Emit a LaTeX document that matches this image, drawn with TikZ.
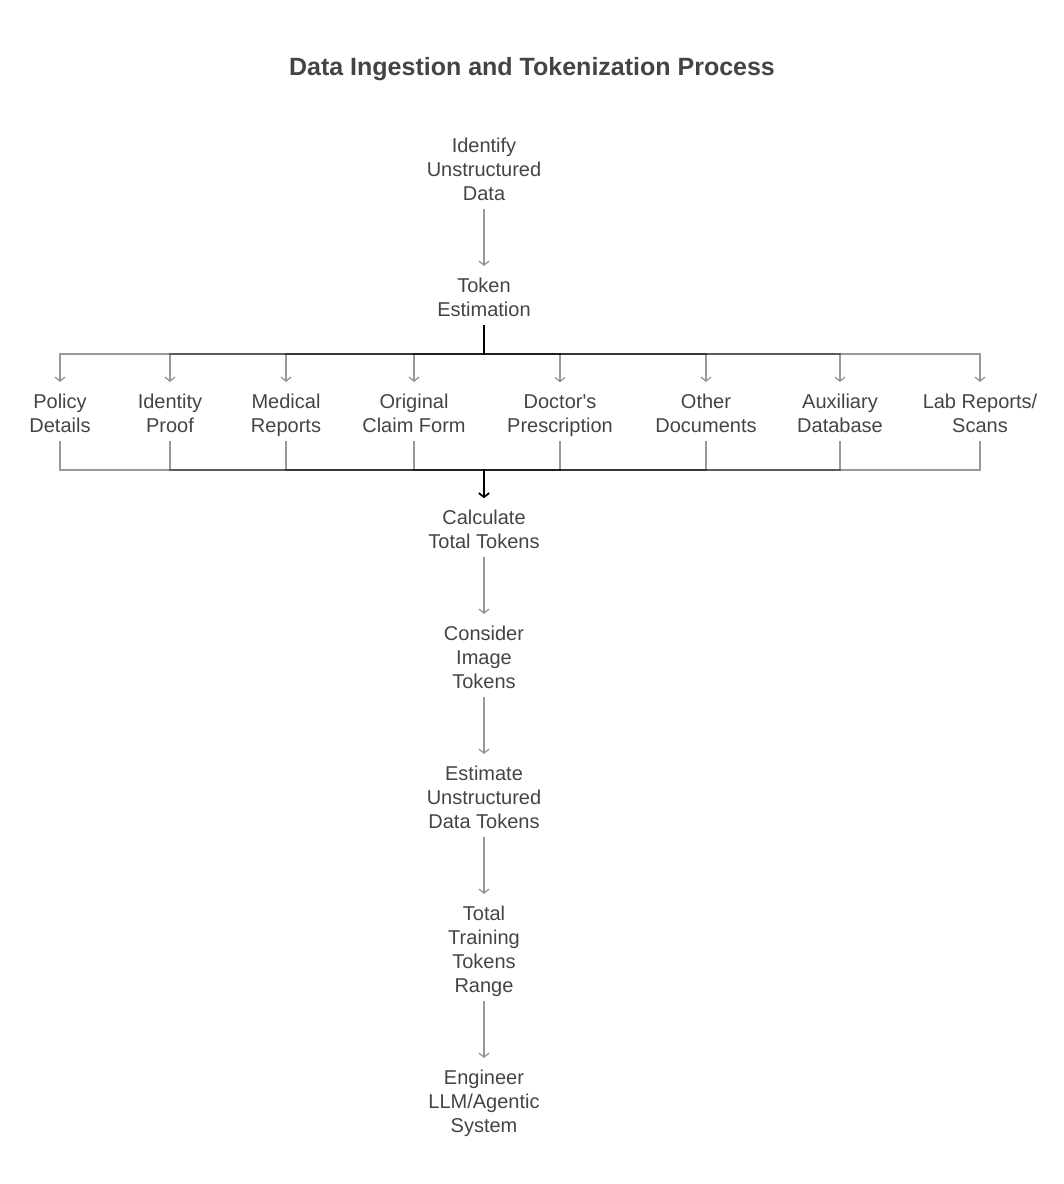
\documentclass[tikz,border=0pt]{standalone}
\usepackage{fontspec}
\setmainfont{Liberation Sans}[Ligatures=TeXOff]
\usetikzlibrary{arrows.meta}

\definecolor{txt}{HTML}{444444}

\begin{document}
\begin{tikzpicture}[x=1pt, y=-1pt,
    box/.style={text=txt, align=center, font=\fontsize{20}{24}\selectfont,
        inner sep=0pt, execute at begin node=\strut, execute at end node=\strut},
    link/.style={draw=black, draw opacity=0.4, line width=1.3pt,
        shorten <=1pt, shorten >=12pt},
    edge/.style={link, -{Straight Barb[length=4pt,width=10pt]}}]
    \useasboundingbox (0,0) rectangle (1064,1184);

    \node[text=txt, font=\bfseries\fontsize{25}{30}\selectfont] (title) at (532,69)
        {Data Ingestion and Tokenization Process};

    \node[box] (ident) at (484,173) {Identify\\Unstructured\\Data};
    \node[box] (token) at (484,301) {Token\\Estimation};

    \node[box] (policy) at (60,417) {Policy\\Details};
    \node[box] (proof)  at (170,417) {Identity\\Proof};
    \node[box] (medrep) at (286,417) {Medical\\Reports};
    \node[box] (claim)  at (414,417) {Original\\Claim Form};
    \node[box] (presc)  at (560,417) {Doctor's\\Prescription};
    \node[box] (other)  at (706,417) {Other\\Documents};
    \node[box] (auxdb)  at (840,417) {Auxiliary\\Database};
    \node[box] (labrep) at (980,417) {Lab Reports/\\Scans};

    \node[box] (calc)   at (484,533) {Calculate\\Total Tokens};
    \node[box] (image)  at (484,661) {Consider\\Image\\Tokens};
    \node[box] (unstr)  at (484,801) {Estimate\\Unstructured\\Data Tokens};
    \node[box] (range)  at (484,953) {Total\\Training\\Tokens\\Range};
    \node[box] (llm)    at (484,1105) {Engineer\\LLM/Agentic\\System};

    \coordinate (fork) at (484,354);
    \coordinate (join) at (484,470);

    \draw[edge] (ident) -- (token);
    \foreach \n in {policy,proof,medrep,claim,presc,other,auxdb,labrep} {
        \draw[edge] (token.south) -- (fork) -| (\n.north);
        \draw[edge] (\n.south) |- (join) -- (calc.north);
    }
    \draw[edge] (calc) -- (image);
    \draw[edge] (image) -- (unstr);
    \draw[edge] (unstr) -- (range);
    \draw[edge] (range) -- (llm);
\end{tikzpicture}
\end{document}
